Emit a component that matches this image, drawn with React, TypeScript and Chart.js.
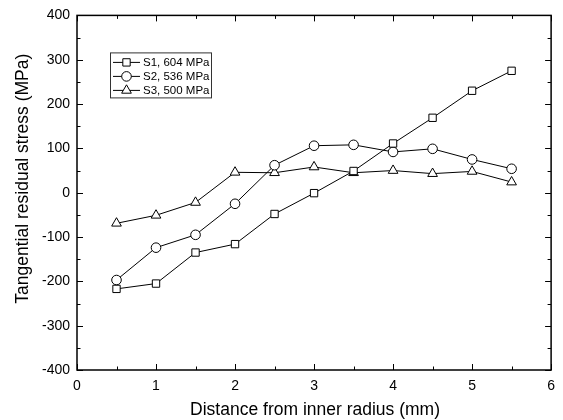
import React, { useEffect, useRef } from "react";
import { Chart, registerables } from "chart.js";
import { drawPoint } from "chart.js/helpers";

Chart.register(...registerables);

const distances = [0.5, 1, 1.5, 2, 2.5, 3, 3.5, 4, 4.5, 5, 5.5];
const s1Values = [-217, -205, -135, -116, -48, -1, 49, 111, 169, 230, 275];
const s2Values = [-197, -124, -95, -25, 62, 106, 108, 92, 99, 75, 54];
const s3Values = [-69, -51, -22, 46, 45, 58, 45, 50, 43, 48, 24];
const seriesLabels = ["S1, 604 MPa", "S2, 536 MPa", "S3, 500 MPa"];
const seriesMarkers = ["rect", "circle", "triangle"];
const markerRadii = [5.2, 4.8, 5.6];
const xTitle = "Distance from inner radius (mm)";
const yTitle = "Tangential residual stress (MPa)";

const FONT = "'Liberation Sans', Arial, Helvetica, sans-serif";

const framePlugin = {
  id: "frame",
  afterDraw(chart: any) {
    const ctx = chart.ctx;
    const { left, right, top, bottom } = chart.chartArea;
    const xs = chart.scales.x;
    const ys = chart.scales.y;
    ctx.save();
    ctx.strokeStyle = "#000";
    // ticks
    ctx.lineWidth = 1;
    ctx.beginPath();
    for (let v = 0; v <= 6.0001; v += 0.5) {
      const px = Math.round(xs.getPixelForValue(v)) + 0.5;
      const major = Math.abs(v - Math.round(v)) < 1e-6;
      const len = major ? 6 : 3.5;
      ctx.moveTo(px, bottom);
      ctx.lineTo(px, bottom - len);
      ctx.moveTo(px, top);
      ctx.lineTo(px, top + len);
    }
    for (let v = -400; v <= 400; v += 50) {
      const py = Math.round(ys.getPixelForValue(v)) + 0.5;
      const major = v % 100 === 0;
      const len = major ? 6 : 3.5;
      ctx.moveTo(left, py);
      ctx.lineTo(left + len, py);
      ctx.moveTo(right, py);
      ctx.lineTo(right - len, py);
    }
    ctx.stroke();
    // frame
    ctx.lineWidth = 1.5;
    ctx.strokeRect(left, top, right - left, bottom - top);

    // axis titles
    ctx.fillStyle = "#000";
    ctx.font = `17.5px ${FONT}`;
    ctx.textAlign = "center";
    ctx.textBaseline = "alphabetic";
    ctx.fillText(xTitle, (left + right) / 2 + 1, 415);
    ctx.save();
    ctx.translate(28, (top + bottom) / 2 - 14);
    ctx.rotate(-Math.PI / 2);
    ctx.fillText(yTitle, 0, 0);
    ctx.restore();

    // legend
    const lx = left + 33.5;
    const ly = top + 37.5;
    ctx.lineWidth = 1;
    ctx.strokeStyle = "#333";
    ctx.strokeRect(lx, ly, 101, 45);
    ctx.font = `11.5px ${FONT}`;
    ctx.textAlign = "left";
    ctx.textBaseline = "middle";
    const rows = [ly + 9.5, ly + 23.5, ly + 37.5];
    seriesLabels.forEach((label, i) => {
      const y = rows[i];
      ctx.strokeStyle = "#000";
      ctx.beginPath();
      ctx.moveTo(lx + 2.5, y);
      ctx.lineTo(lx + 29.5, y);
      ctx.stroke();
      ctx.fillStyle = "#fff";
      drawPoint(ctx, { pointStyle: seriesMarkers[i], radius: markerRadii[i], rotation: 0, borderWidth: 1 } as any, lx + 16, y);
      ctx.fillStyle = "#000";
      ctx.fillText(label, lx + 32.5, y + 0.5);
    });
    ctx.restore();
  },
};

export default function App() {
  const canvasRef = useRef<HTMLCanvasElement | null>(null);

  useEffect(() => {
    if (!canvasRef.current) return;
    const seriesValues = [s1Values, s2Values, s3Values];
    const chart = new Chart(canvasRef.current, {
      type: "line",
      data: {
        datasets: seriesValues.map((vals, i) => ({
          label: seriesLabels[i],
          data: distances.map((x, j) => ({ x, y: vals[j] })),
          borderColor: "#000",
          borderWidth: 1,
          backgroundColor: "#fff",
          pointStyle: seriesMarkers[i] as any,
          pointRadius: markerRadii[i],
          pointBorderWidth: 1,
          pointBorderColor: "#000",
          pointBackgroundColor: "#fff",
          tension: 0,
          fill: false,
        })),
      },
      options: {
        animation: false,
        responsive: true,
        maintainAspectRatio: false,
        layout: { padding: { top: 15, right: 2, left: 0, bottom: 0 } },
        plugins: { legend: { display: false }, tooltip: { enabled: false } },
        scales: {
          x: {
            type: "linear",
            min: 0,
            max: 6,
            grid: { display: false, drawTicks: false },
            border: { display: false },
            ticks: {
              stepSize: 1,
              padding: 8,
              color: "#000",
              font: { family: FONT, size: 14 },
            },
            afterFit: (scale: any) => {
              scale.height = 50;
            },
          },
          y: {
            type: "linear",
            min: -400,
            max: 400,
            grid: { display: false, drawTicks: false },
            border: { display: false },
            ticks: {
              stepSize: 100,
              padding: 7,
              color: "#000",
              font: { family: FONT, size: 14 },
            },
            afterFit: (scale: any) => {
              scale.width = 77;
            },
          },
        },
      },
      plugins: [framePlugin],
    });
    return () => chart.destroy();
  }, []);

  return (
    <div style={{ position: "fixed", left: 0, top: 0, width: 563, height: 420, background: "#fff" }}>
      <canvas ref={canvasRef} />
    </div>
  );
}
